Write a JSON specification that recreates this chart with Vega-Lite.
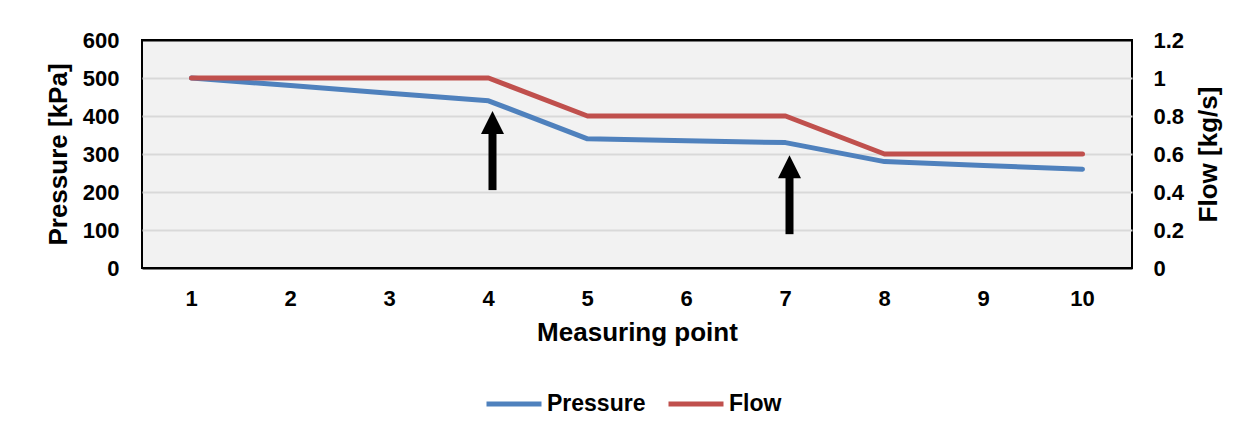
{
  "$schema": "https://vega.github.io/schema/vega-lite/v6.json",
  "width": 990,
  "height": 228,
  "autosize": {"type": "none"},
  "padding": {"left": 142, "top": 40, "right": 123, "bottom": 166},
  "background": "white",
  "datasets": {
    "readings": [
      {"point": 1, "pressure": 500, "flow": 1.0},
      {"point": 2, "pressure": 480, "flow": 1.0},
      {"point": 3, "pressure": 460, "flow": 1.0},
      {"point": 4, "pressure": 440, "flow": 1.0},
      {"point": 5, "pressure": 340, "flow": 0.8},
      {"point": 6, "pressure": 335, "flow": 0.8},
      {"point": 7, "pressure": 330, "flow": 0.8},
      {"point": 8, "pressure": 280, "flow": 0.6},
      {"point": 9, "pressure": 270, "flow": 0.6},
      {"point": 10, "pressure": 260, "flow": 0.6}
    ],
    "arrows": [
      {"point": 4, "tail": 205, "base": 356, "tip": 413},
      {"point": 7, "tail": 89, "base": 240, "tip": 297}
    ]
  },
  "layer": [
    {
      "layer": [
        {
          "data": {"name": "readings"},
          "mark": {"type": "line", "strokeWidth": 5, "strokeCap": "round", "strokeJoin": "round"},
          "encoding": {
            "x": {"field": "point", "type": "ordinal", "title": "Measuring point"},
            "y": {
              "field": "pressure",
              "type": "quantitative",
              "title": "Pressure [kPa]",
              "scale": {"domain": [0, 600]},
              "axis": {
                "orient": "left",
                "values": [0, 100, 200, 300, 400, 500, 600],
                "grid": true,
                "gridWidth": 2,
                "gridColor": {"condition": {"test": "datum.value === 0 || datum.value === 600", "value": "black"}, "value": "#d9d9d9"},
                "labelPadding": 23,
                "titlePadding": 11
              }
            },
            "color": {
              "datum": "Pressure",
              "type": "nominal",
              "scale": {"domain": ["Pressure", "Flow"], "range": ["#4f81bd", "#c0504d"]},
              "legend": {
                "orient": "none",
                "legendX": 342,
                "legendY": 334,
                "direction": "horizontal",
                "title": null,
                "symbolType": "stroke",
                "symbolSize": 3025,
                "symbolStrokeWidth": 5,
                "labelFontSize": 23,
                "labelFont": "Liberation Sans",
                "labelFontWeight": "bold",
                "labelColor": "black",
                "labelOffset": 3,
                "columnPadding": 12
              }
            }
          }
        },
        {
          "data": {"name": "arrows"},
          "mark": {"type": "rule", "strokeWidth": 8, "color": "black", "xOffset": 4},
          "encoding": {
            "x": {"field": "point", "type": "ordinal", "title": "Measuring point"},
            "y": {
              "field": "tail",
              "type": "quantitative",
              "title": "Pressure [kPa]",
              "scale": {"domain": [0, 600]},
              "axis": {
                "orient": "left",
                "values": [0, 100, 200, 300, 400, 500, 600],
                "grid": true,
                "gridWidth": 2,
                "gridColor": {"condition": {"test": "datum.value === 0 || datum.value === 600", "value": "black"}, "value": "#d9d9d9"},
                "labelPadding": 23,
                "titlePadding": 11
              }
            },
            "y2": {"field": "base"}
          }
        },
        {
          "data": {"name": "arrows"},
          "mark": {"type": "point", "shape": "M0,0L1,2L-1,2Z", "size": 529, "filled": true, "color": "black", "opacity": 1, "strokeWidth": 0, "xOffset": 4},
          "encoding": {
            "x": {"field": "point", "type": "ordinal", "title": "Measuring point"},
            "y": {
              "field": "tip",
              "type": "quantitative",
              "title": "Pressure [kPa]",
              "scale": {"domain": [0, 600]},
              "axis": {
                "orient": "left",
                "values": [0, 100, 200, 300, 400, 500, 600],
                "grid": true,
                "gridWidth": 2,
                "gridColor": {"condition": {"test": "datum.value === 0 || datum.value === 600", "value": "black"}, "value": "#d9d9d9"},
                "labelPadding": 23,
                "titlePadding": 11
              }
            }
          }
        }
      ]
    },
    {
      "data": {"name": "readings"},
      "mark": {"type": "line", "strokeWidth": 5, "strokeCap": "round", "strokeJoin": "round"},
      "encoding": {
        "x": {"field": "point", "type": "ordinal", "title": "Measuring point"},
        "y": {
          "field": "flow",
          "type": "quantitative",
          "title": "Flow [kg/s]",
          "scale": {"domain": [0, 1.2]},
          "axis": {
            "orient": "right",
            "values": [0, 0.2, 0.4, 0.6, 0.8, 1, 1.2],
            "format": "~g",
            "grid": false,
            "labelPadding": 21,
            "titleAngle": 270,
            "titleBaseline": "top",
            "titlePadding": 12
          }
        },
        "color": {"datum": "Flow", "type": "nominal"}
      }
    }
  ],
  "resolve": {"scale": {"y": "independent"}},
  "config": {
    "font": "Liberation Sans",
    "view": {"fill": "#f2f2f2", "stroke": "black", "strokeWidth": 2},
    "axis": {
      "domain": false,
      "ticks": false,
      "labelOverlap": false,
      "labelFont": "Liberation Sans",
      "labelFontWeight": "bold",
      "labelFontSize": 22,
      "labelColor": "black",
      "titleFont": "Liberation Sans",
      "titleFontWeight": "bold",
      "titleFontSize": 26,
      "titleColor": "black"
    },
    "axisX": {
      "labelAngle": 0,
      "labelPadding": 20,
      "titlePadding": 10,
      "grid": false
    }
  }
}
